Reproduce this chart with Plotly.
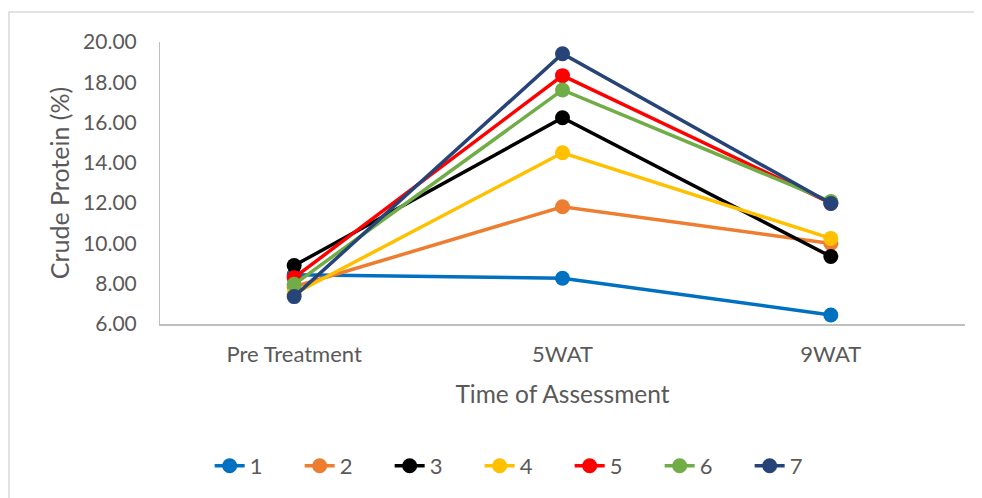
import plotly.graph_objects as go

categories = ["Pre Treatment", "5WAT", "9WAT"]
series_names = ["1", "2", "3", "4", "5", "6", "7"]
s1 = [8.45, 8.27, 6.45]
s2 = [7.85, 11.82, 10.0]
s3 = [8.9, 16.24, 9.35]
s4 = [7.5, 14.5, 10.25]
s5 = [8.3, 18.33, 12.0]
s6 = [7.97, 17.62, 12.08]
s7 = [7.36, 19.42, 11.98]
series_values = [s1, s2, s3, s4, s5, s6, s7]
colors = ["#0070C0", "#ED7D31", "#000000", "#FFC000", "#FF0000", "#70AD47", "#264478"]
y_ticks = [6, 8, 10, 12, 14, 16, 18, 20]

FONT = "Lato"
TXT = "#595959"

fig = go.Figure()
for name, vals, col in zip(series_names, series_values, colors):
    fig.add_trace(go.Scatter(
        x=categories, y=vals, name=name, mode="lines+markers",
        line=dict(color=col, width=3.5),
        marker=dict(color=col, size=15),
    ))

fig.update_layout(
    width=982, height=498,
    margin=dict(l=152, r=25, t=34, b=182),
    paper_bgcolor="white", plot_bgcolor="white",
    font=dict(family=FONT, color=TXT, size=18),
    showlegend=True,
    legend=dict(orientation="h", x=0.453, xanchor="center", y=-0.5035, yanchor="middle",
                font=dict(size=22, color=TXT), entrywidth=45, tracegroupgap=0),
    xaxis=dict(
        type="category", range=[-0.5, 2.5], showgrid=False, showline=True,
        linecolor="#BFBFBF", linewidth=1.5,
        ticks="", tickfont=dict(size=22, color=TXT), ticklabelstandoff=10,
        title=dict(text="Time of Assessment", font=dict(size=24.5, color=TXT), standoff=20),
        zeroline=False,
    ),
    yaxis=dict(
        range=[6, 20], tickvals=y_ticks, ticktext=[f"{v:.2f}" for v in y_ticks],
        showgrid=False, showline=True, linecolor="#BFBFBF", linewidth=1,
        ticks="", tickfont=dict(size=21, color=TXT), ticklabelstandoff=18,
        title=dict(text="Crude Protein (%)", font=dict(size=25, color=TXT), standoff=6),
        zeroline=False,
    ),
    shapes=[dict(type="rect", xref="paper", yref="paper",
                 x0=-0.1876, x1=1.1, y0=-0.7, y1=1.106,
                 line=dict(color="#D9D9D9", width=1.5), fillcolor="rgba(0,0,0,0)", layer="below")],
)

fig.write_html("out.html")
